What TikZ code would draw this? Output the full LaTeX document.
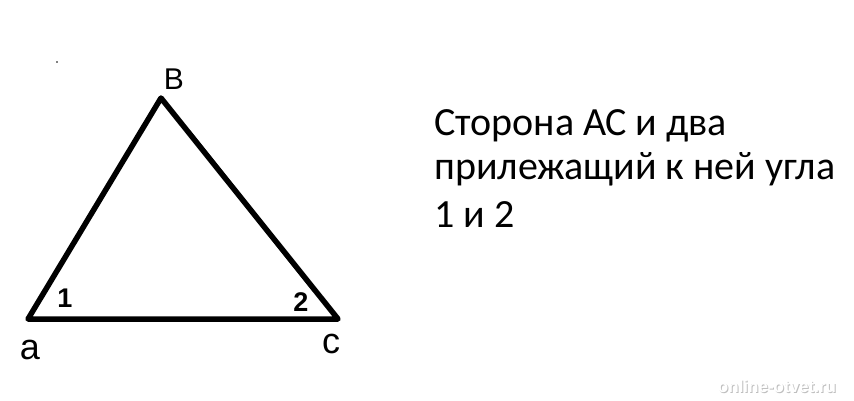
\documentclass[tikz,border=0pt]{standalone}
\usepackage{fontspec}
\setmainfont{Carlito}
\newfontfamily\arialfont{Liberation Sans}
\usepackage{tikz}

\begin{document}
\begin{tikzpicture}[x=1pt, y=-1pt,
  side/.style={line width=5.5pt, line join=round, line cap=round},
  vlabel/.style={font=\arialfont\fontsize{30}{30}\selectfont, inner sep=0pt},
  anglelabel/.style={font=\arialfont\bfseries\fontsize{27}{27}\selectfont, inner sep=0pt},
  textline/.style={font=\fontsize{40}{48}\selectfont, anchor=base west, inner sep=0pt},
  wmark/.style={font=\arialfont\bfseries\fontsize{17}{17}\selectfont, inner sep=0pt}]
  \useasboundingbox[fill=white] (0,0) rectangle (854,400);

  \coordinate (A) at (28,319) ; %
  \coordinate (B) at (161,98) ; %
  \coordinate (C) at (338,319) ; %

  \draw[side] (A) -- (B) -- (C) -- cycle;

  \node[vlabel] (b) at (174,79) {B} ; %
  \node[vlabel, font=\arialfont\fontsize{36}{36}\selectfont] (a) at (30,350) {a} ; %
  \node[vlabel, font=\arialfont\fontsize{36}{36}\selectfont] (c) at (331,344) {c} ; %
  \node[anglelabel] (one) at (65,298) {1} ; %
  \node[anglelabel] (two) at (301,302) {2} ; %

  \fill (57,62) circle (0.9pt);

  \node[textline] (line1) at (434,135) {Сторона АС и два} ; %
  \node[textline] (line2) at (434,179) {прилежащий к ней угла} ; %
  \node[textline] (line3) at (434,227) {1 и 2} ; %

  % watermark
  \node[wmark, text=gray!50] (wmshadow) at (778,387) {online-otvet.ru} ; %
  \node[wmark, text=white] (wm) at (777,386) {online-otvet.ru} ; %

\end{tikzpicture}
\end{document}
